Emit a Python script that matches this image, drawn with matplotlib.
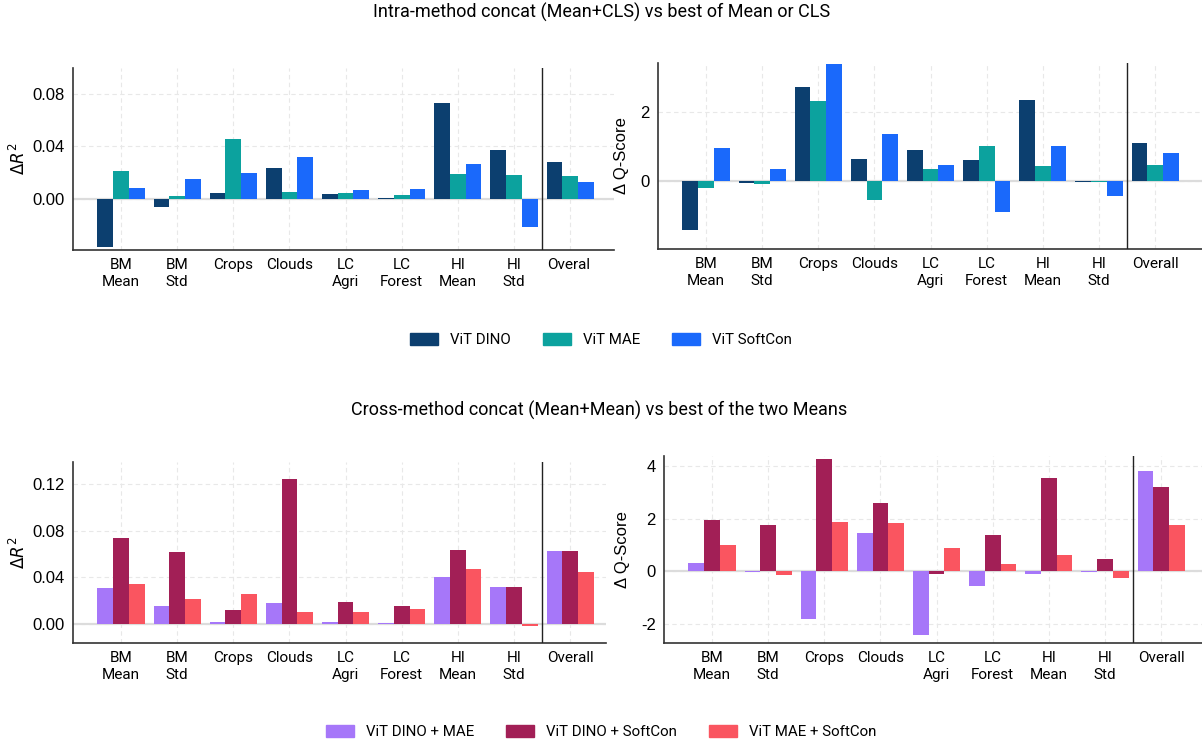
import matplotlib
matplotlib.use('Agg')
import numpy as np
import matplotlib.pyplot as plt
from matplotlib.patches import Patch
from matplotlib.transforms import Bbox

W, H = 1202, 740
TXT_FONT = ['Roboto', 'DejaVu Sans']
NUM_FONT = ['Liberation Sans', 'DejaVu Sans']

tasks = ['BM\nMean', 'BM\nStd', 'Crops', 'Clouds', 'LC\nAgri', 'LC\nForest',
         'HI\nMean', 'HI\nStd', 'Overall']

# intra-method concat (Mean+CLS) vs best of Mean or CLS
intra_labels = ['ViT DINO', 'ViT MAE', 'ViT SoftCon']
intra_colors = ['#0c3f6f', '#0ca29e', '#1a69fb']
intra_r2 = [
    [-0.0364, -0.0059, 0.0046, 0.0237, 0.0038, 0.0008, 0.0726, 0.0375, 0.0283],
    [0.0214, 0.0023, 0.0455, 0.0053, 0.0046, 0.0031, 0.0191, 0.0183, 0.0176],
    [0.0084, 0.0153, 0.0196, 0.0318, 0.0069, 0.0076, 0.0268, -0.0214, 0.0130],
]
intra_q = [
    [-1.42, -0.06, 2.71, 0.64, 0.90, 0.61, 2.36, -0.04, 1.11],
    [-0.22, -0.09, 2.33, -0.57, 0.35, 1.02, 0.44, -0.03, 0.47],
    [0.96, 0.35, 3.38, 1.37, 0.47, -0.92, 1.02, -0.43, 0.82],
]

# cross-method concat (Mean+Mean) vs best of the two Means
cross_labels = ['ViT DINO + MAE', 'ViT DINO + SoftCon', 'ViT MAE + SoftCon']
cross_colors = ['#a677f9', '#a21f56', '#fa5560']
cross_r2 = [
    [0.0306, 0.0152, 0.0011, 0.0175, 0.0011, 0.0003, 0.0398, 0.0312, 0.0621],
    [0.0733, 0.0613, 0.0115, 0.1240, 0.0183, 0.0149, 0.0630, 0.0312, 0.0621],
    [0.0338, 0.0209, 0.0252, 0.0097, 0.0097, 0.0123, 0.0467, -0.0020, 0.0441],
]
cross_q = [
    [0.32, -0.03, -1.81, 1.46, -2.41, -0.54, -0.09, -0.03, 3.81],
    [1.95, 1.76, 4.27, 2.59, -0.09, 1.38, 3.54, 0.47, 3.20],
    [1.00, -0.13, 1.87, 1.84, 0.89, 0.28, 0.62, -0.24, 1.76],
]

fig = plt.figure(figsize=(W / 100, H / 100), dpi=100)
plt.rcParams['mathtext.fontset'] = 'dejavusans'


def px_rect(l, r, t, b):
    return [l / W, 1 - b / H, (r - l) / W, (b - t) / H]


def panel(rect, series, colors, ylim, yticks, yfmt, ylabel, labelpad):
    ax = fig.add_axes(rect)
    x = np.arange(len(tasks))
    w = 0.28
    for i, (vals, c) in enumerate(zip(series, colors)):
        ax.bar(x + (i - 1) * w, vals, width=w, color=c, zorder=3)
    ax.axhline(0, color='#dcdcdc', lw=1.6, zorder=2)
    ax.axvline(7.5, color='#222222', lw=1.0, zorder=4)
    width_px = rect[2] * W
    ax.set_xlim(-0.855, -0.855 + width_px / 56.15)
    ax.set_ylim(*ylim)
    ax.set_xticks(x)
    ax.set_xticklabels(tasks, fontsize=11, family=TXT_FONT, linespacing=1.25)
    ax.set_yticks(yticks)
    ax.set_yticklabels([yfmt.format(v) for v in yticks], fontsize=12, family=NUM_FONT)
    ax.tick_params(length=0, pad=6)
    ax.tick_params(axis='x', pad=6)
    ax.grid(True, ls=(0, (4, 3)), color='#e8e8e8', lw=0.8, zorder=0)
    ax.set_axisbelow(True)
    for s in ['top', 'right']:
        ax.spines[s].set_visible(False)
    for s in ['left', 'bottom']:
        ax.spines[s].set_color('#333333')
        ax.spines[s].set_linewidth(1.2)
    ax.set_ylabel(ylabel, fontsize=12, family=NUM_FONT, labelpad=labelpad)
    return ax


ax1 = panel(px_rect(73, 614, 68, 250), intra_r2, intra_colors,
            (-0.0389, 0.0996), [0.0, 0.04, 0.08], '{:.2f}', r'$\Delta R^2$', 3)
ax2 = panel(px_rect(658, 1202, 63, 249), intra_q, intra_colors,
            (-1.98, 3.42), [0, 2], '{:d}', 'Δ Q-Score', 8)
ax3 = panel(px_rect(73, 606, 462, 643), cross_r2, cross_colors,
            (-0.0167, 0.139), [0.0, 0.04, 0.08, 0.12], '{:.2f}', r'$\Delta R^2$', 3)
ax4 = panel(px_rect(664, 1202, 456, 643), cross_q, cross_colors,
            (-2.72, 4.38), [-2, 0, 2, 4], '{:d}', 'Δ Q-Score', 8)

# the top-left panel image is cut just before the end of its last label
lbl = ax1.get_xticklabels()[-1]
lbl.set_clip_box(Bbox.from_extents(0, 0, 590, H))
lbl.set_clip_on(True)

fig.text(602 / W, 1 - 12 / H, 'Intra-method concat (Mean+CLS) vs best of Mean or CLS',
         ha='center', va='center', fontsize=13, family=TXT_FONT)
fig.text(599 / W, 1 - 410 / H, 'Cross-method concat (Mean+Mean) vs best of the two Means',
         ha='center', va='center', fontsize=13, family=TXT_FONT)

leg_kw = dict(loc='center', ncol=3, frameon=False, handlelength=1.9, handleheight=0.8,
              handletextpad=0.8, columnspacing=2.1, prop={'family': TXT_FONT, 'size': 10.8})
fig.legend([Patch(color=c) for c in intra_colors], intra_labels,
           bbox_to_anchor=(601 / W, 1 - 340 / H), **leg_kw)
fig.legend([Patch(color=c) for c in cross_colors], cross_labels,
           bbox_to_anchor=(601 / W, 1 - 732 / H), **leg_kw)

fig.savefig('out.png', dpi=100)
